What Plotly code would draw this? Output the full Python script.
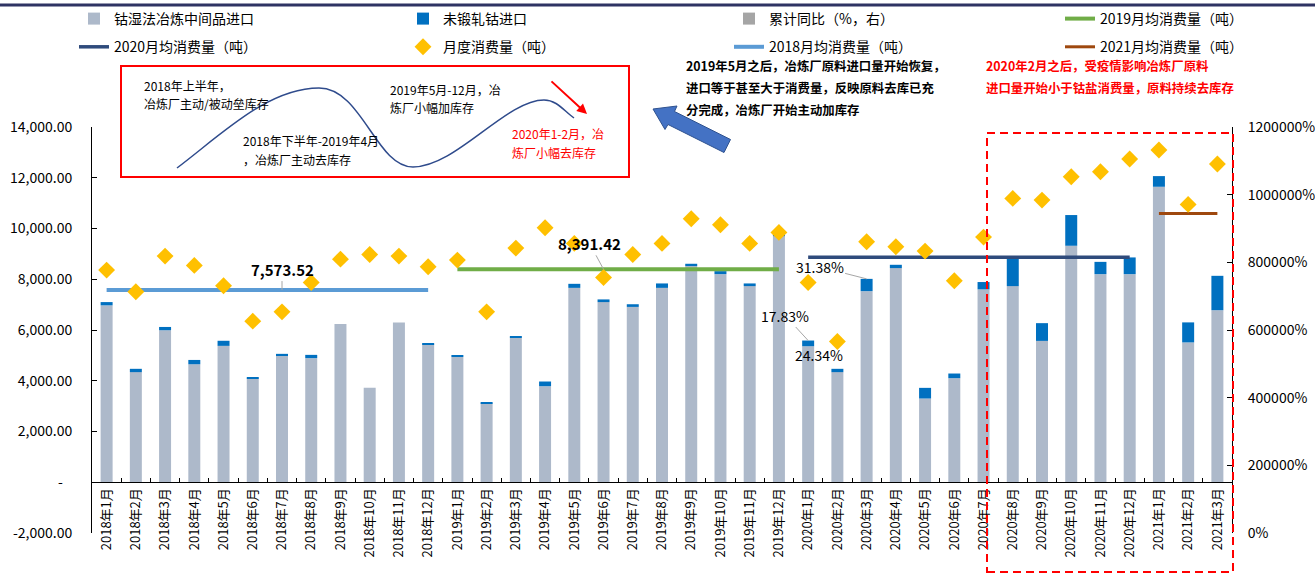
import plotly.graph_objects as go

# ---------------- data ----------------
years_months = [(2018, m) for m in range(1, 13)] + [(2019, m) for m in range(1, 13)] + \
               [(2020, m) for m in range(1, 13)] + [(2021, m) for m in range(1, 4)]
months = [f"{y}年{m}月" for y, m in years_months]

# 钴湿法冶炼中间品进口 (金属吨)
intermediate = [6970, 4340, 5990, 4650, 5375, 4090, 5010, 4890, 6240, 3720, 6300, 5440,
                4940, 3115, 5690, 3785, 7660, 7100, 6910, 7660, 8520, 8200, 7730, 9700,
                5360, 4340, 7530, 8440, 3300, 4100, 7600, 7730, 5570, 9320, 8200, 8200,
                11645, 5510, 6780]
# 未锻轧钴进口
unwrought = [130, 130, 130, 170, 200, 50, 50, 130, 0, 0, 0, 40,
             40, 40, 40, 185, 160, 105, 105, 175, 90, 120, 105, 130,
             225, 130, 485, 130, 420, 185, 290, 1130, 700, 1210, 485, 660,
             420, 790, 1355]
# 月度消费量 (吨)
monthly = [8360, 7505, 8912, 8545, 7742, 6349, 6716, 7873, 8793, 8978, 8912, 8490,
           8754, 6716, 9227, 10028, 9412, 8071, 8978, 9412, 10383, 10147, 9412, 9846,
           7873, 5547, 9476, 9279, 9109, 7938, 9661, 11187, 11120, 12039, 12236, 12737,
           13091, 10950, 12539]
# 累计同比 (右轴)
yoy_months = ["2020年1月", "2020年2月", "2020年3月"]
yoy_values = [0.1783, 0.2434, 0.3138]

# 年度月均消费量 (吨)
avg_2018 = 7573.52
avg_2019 = 8391.42
avg_2020 = 8870
avg_2021 = 10590
span_2018 = (months[0], months[11])
span_2019 = (months[12], months[23])
span_2020 = (months[24], months[35])
span_2021 = (months[36], months[38])

# ---------------- layout helpers ----------------
W, H = 1315, 574
ML, MR, MT, MB = 92, 83, 127, 41
PW, PH = W - ML - MR, H - MT - MB
FONT = "Noto Sans CJK SC, Noto Sans, sans-serif"


def px(x):
    return (x - ML) / PW


def py(y):
    return (H - MB - y) / PH


C_INTER = "#adb9ca"
C_UNWR = "#0070c0"
C_YOY = "#a5a5a5"
C_2018 = "#5b9bd5"
C_2019 = "#70ad47"
C_2020 = "#2f4b7c"
C_2021 = "#9e480e"
C_DIAM = "#ffc000"

fig = go.Figure()

fig.add_trace(go.Bar(x=months, y=intermediate, name="钴湿法冶炼中间品进口",
                     marker=dict(color=C_INTER, line=dict(width=0)), width=0.41,
                     legend="legend", legendgroup="a1", legendrank=1))
fig.add_trace(go.Bar(x=months, y=unwrought, name="未锻轧钴进口",
                     marker=dict(color=C_UNWR, line=dict(width=0)), width=0.41,
                     legend="legend2", legendgroup="b1", legendrank=1))
fig.add_trace(go.Bar(x=yoy_months, y=yoy_values, name="累计同比（%，右）", yaxis="y2",
                     marker=dict(color=C_YOY, line=dict(width=0)), width=0.41,
                     legend="legend3", legendgroup="c1", legendrank=1))


def avg_line(span, val, name, color, width, legend, group):
    fig.add_trace(go.Scatter(x=list(span), y=[val, val], mode="lines", name=name,
                             line=dict(color=color, width=width),
                             legend=legend, legendgroup=group, legendrank=2))


avg_line(span_2019, avg_2019, "2019月均消费量（吨）", C_2019, 4, "legend4", "d1")
avg_line(span_2018, avg_2018, "2018月均消费量（吨）", C_2018, 4, "legend3", "c2")
avg_line(span_2020, avg_2020, "2020月均消费量（吨）", C_2020, 3.5, "legend", "a2")
avg_line(span_2021, avg_2021, "2021月均消费量（吨）", C_2021, 3, "legend4", "d2")

fig.add_trace(go.Scatter(x=months, y=monthly, mode="markers", name="月度消费量（吨）",
                         marker=dict(symbol="diamond", size=13, color=C_DIAM, line=dict(width=0)),
                         legend="legend2", legendgroup="b2", legendrank=2))

# ---------------- legends ----------------
leg_common = dict(xanchor="left", yanchor="top", orientation="v", bgcolor="rgba(0,0,0,0)",
                  font=dict(family=FONT, size=14, color="#000000"),
                  traceorder="grouped", tracegroupgap=7, itemwidth=30)
legends = {}
for key, xpix in zip(["legend", "legend2", "legend3", "legend4"], [74, 403, 729, 1060]):
    legends[key] = dict(leg_common, x=px(xpix), y=py(3))

# ---------------- annotations ----------------
ann = []
# average-line values
ann.append(dict(x=months[6], y=avg_2018, text=f"<b>{avg_2018:,.2f}</b>", showarrow=True,
                ax=0, ay=-21, arrowhead=0, arrowwidth=1, arrowcolor="#a6a6a6",
                font=dict(family=FONT, size=15, color="#000000")))
ann.append(dict(x=months[17], y=avg_2019, text=f"<b>{avg_2019:,.2f}</b>", showarrow=True,
                ax=-14, ay=-26, arrowhead=0, arrowwidth=1, arrowcolor="#a6a6a6",
                font=dict(family=FONT, size=15, color="#000000")))

# cumulative YoY labels
tot = {m: a + b for m, a, b in zip(months, intermediate, unwrought)}
yoy_offsets = {"2020年1月": (-23, -25, True), "2020年2月": (-18, -14, False), "2020年3月": (-47, -12, True)}
for m, v in zip(yoy_months, yoy_values):
    dx, dy, arrow = yoy_offsets[m]
    if arrow:
        ann.append(dict(x=m, y=tot[m], text=f"{v:.2%}", showarrow=True, ax=dx, ay=dy,
                        arrowhead=0, arrowwidth=1, arrowcolor="#a6a6a6",
                        font=dict(family=FONT, size=14, color="#000000")))
    else:
        ann.append(dict(x=m, y=tot[m], text=f"{v:.2%}", showarrow=False, xshift=dx, yshift=-dy,
                        font=dict(family=FONT, size=14, color="#000000")))

# inset diagram texts
inset_texts = [
    (142, 85, "2018年上半年，", "#000000"),
    (142, 103, "冶炼厂主动/被动垒库存", "#000000"),
    (241, 141, "2018年下半年-2019年4月", "#000000"),
    (241, 159, "，冶炼厂主动去库存", "#000000"),
    (388, 89, "2019年5月-12月，冶", "#000000"),
    (388, 108, "炼厂小幅加库存", "#000000"),
    (510, 133, "2020年1-2月，冶", "#ff0000"),
    (510, 152, "炼厂小幅去库存", "#ff0000"),
]
for x0, y0, t, c in inset_texts:
    ann.append(dict(xref="paper", yref="paper", x=px(x0), y=py(y0), text=t, showarrow=False,
                    xanchor="left", yanchor="middle", font=dict(family=FONT, size=12, color=c)))

# red arrow in the inset
ann.append(dict(xref="paper", yref="paper", x=px(587), y=py(114), text="", showarrow=True,
                ax=-37, ay=-34, arrowhead=2, arrowsize=1, arrowwidth=2, arrowcolor="#ff0000"))

# commentary blocks
notes_black = ["2019年5月之后，冶炼厂原料进口量开始恢复，",
               "进口等于甚至大于消费量，反映原料去库已充",
               "分完成，冶炼厂开始主动加库存"]
notes_red = ["2020年2月之后，受疫情影响冶炼厂原料",
             "进口量开始小于钴盐消费量，原料持续去库存"]
for i, t in enumerate(notes_black):
    ann.append(dict(xref="paper", yref="paper", x=px(684), y=py(66 + 22 * i), text=f"<b>{t}</b>",
                    showarrow=False, xanchor="left", yanchor="middle",
                    font=dict(family=FONT, size=12.4, color="#000000")))
for i, t in enumerate(notes_red):
    ann.append(dict(xref="paper", yref="paper", x=px(984), y=py(66 + 22 * i), text=f"<b>{t}</b>",
                    showarrow=False, xanchor="left", yanchor="middle",
                    font=dict(family=FONT, size=12.4, color="#ff0000")))

# ---------------- shapes ----------------
def P(x, y):
    return f"{px(x):.5f},{py(y):.5f}"


curve = (f"M {P(177,168)} C {P(222,134)} {P(268,88)} {P(319,88)} "
         f"C {P(362,88)} {P(376,167)} {P(413,167)} "
         f"C {P(456,167)} {P(506,100)} {P(544,100)} "
         f"C {P(557,100)} {P(564,111)} {P(574,118)}")

blue_arrow = (f"M {P(653,109)} L {P(677,106)} L {P(674.5,111.5)} L {P(730.5,139.5)} "
              f"L {P(724,152.5)} L {P(668,124.5)} L {P(665,129.5)} Z")

shapes = [
    # top rule
    dict(type="line", xref="paper", yref="paper", x0=px(0), x1=px(W), y0=py(5), y1=py(5),
         line=dict(color="#2e3363", width=3)),
    # inset frame
    dict(type="rect", xref="paper", yref="paper", x0=px(121), x1=px(629), y0=py(177), y1=py(66),
         line=dict(color="#ff0000", width=2), fillcolor="rgba(255,255,255,0)"),
    dict(type="path", xref="paper", yref="paper", path=curve,
         line=dict(color="#2f4b8c", width=1.5)),
    dict(type="path", xref="paper", yref="paper", path=blue_arrow,
         line=dict(color="#2f528f", width=1), fillcolor="#4472c4"),
    # highlighted period
    dict(type="rect", xref="paper", yref="paper", x0=px(987), x1=px(1233), y0=py(572), y1=py(133),
         line=dict(color="#ff0000", width=2, dash="8px,5px"), fillcolor="rgba(0,0,0,0)"),
]

# ---------------- axes ----------------
y_ticks = list(range(-2000, 14001, 2000))
y_text = [("-\u00a0\u00a0\u00a0" if v == 0 else f"{v:,.2f}") for v in y_ticks]

fig.update_layout(
    width=W, height=H,
    margin=dict(l=ML, r=MR, t=MT, b=MB, pad=0, autoexpand=False),
    paper_bgcolor="white", plot_bgcolor="white",
    font=dict(family=FONT, size=14, color="#000000"),
    barmode="relative",
    showlegend=True,
    xaxis=dict(type="category", categoryorder="array", categoryarray=months,
               range=[-0.5, len(months) - 0.5], anchor="free", position=py(482),
               showline=True, linecolor="#000000", linewidth=1,
               ticks="inside", tickson="boundaries", ticklen=4, tickcolor="#000000",
               tickangle=-90, tickfont=dict(family=FONT, size=13, color="#000000"),
               showgrid=False, zeroline=False),
    yaxis=dict(range=[-2000, 14000], tickvals=y_ticks, ticktext=y_text,
               showline=True, linecolor="#000000", linewidth=1,
               ticks="inside", ticklen=5, tickcolor="#000000",
               tickfont=dict(family=FONT, size=14, color="#000000"), ticklabelstandoff=16,
               showgrid=False, zeroline=False),
    yaxis2=dict(range=[0, 12000], overlaying="y", side="right",
                tickvals=list(range(0, 12001, 2000)), tickformat=".0%",
                showline=True, linecolor="#000000", linewidth=1,
                ticks="inside", ticklen=5, tickcolor="#000000",
                tickfont=dict(family=FONT, size=14, color="#000000"), ticklabelstandoff=12,
                showgrid=False, zeroline=False),
    annotations=ann,
    shapes=shapes,
    hovermode=False,
    **legends,
)

fig.write_html("out.html")
